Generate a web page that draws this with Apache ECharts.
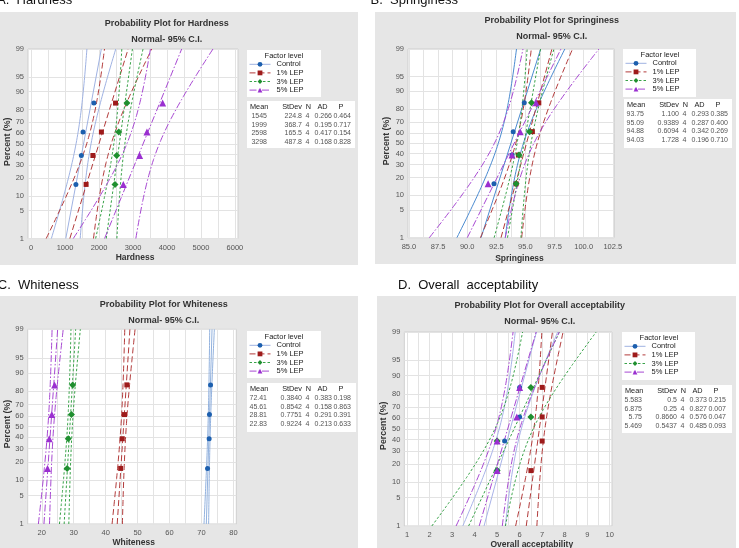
<!DOCTYPE html>
<html><head><meta charset="utf-8">
<script src="https://cdn.jsdelivr.net/npm/echarts@6/dist/echarts.min.js"></script>
<style>html,body{margin:0;padding:0;background:#fff}#c{width:739px;height:548px}</style>
</head><body><div id="c"></div>
<script>
// ================= DATA =================
const groups = ['Control', '1% LEP', '3% LEP', '5% LEP'];
// median-rank plotting positions for n = 4, in percent
const plotPercents = [15.91, 38.64, 61.36, 84.09];
const percentTicks = [1, 5, 10, 20, 30, 40, 50, 60, 70, 80, 90, 95, 99];

// A. Hardness
const hardnessControl = [1320, 1480, 1530, 1850];
const hardness1 = [1620, 1820, 2070, 2486];
const hardness3 = [2470, 2520, 2580, 2822];
const hardness5 = [2715, 3195, 3410, 3872];
const hardnessMean = ['1545', '1999', '2598', '3298'];
const hardnessStDev = ['224.8', '368.7', '165.5', '487.8'];
const hardnessN = [4, 4, 4, 4];
const hardnessAD = ['0.266', '0.195', '0.417', '0.168'];
const hardnessP = ['0.464', '0.717', '0.154', '0.828'];
const hardnessTicks = [0, 1000, 2000, 3000, 4000, 5000, 6000];

// B. Springiness
const springControl = [92.3, 93.85, 93.95, 94.9];
const spring1 = [94.2, 94.4, 95.6, 96.15];
const spring3 = [94.2, 94.45, 95.35, 95.52];
const spring5 = [91.8, 93.85, 94.55, 95.92];
const springMean = ['93.75', '95.09', '94.88', '94.03'];
const springStDev = ['1.100', '0.9389', '0.6094', '1.728'];
const springN = [4, 4, 4, 4];
const springAD = ['0.293', '0.287', '0.342', '0.196'];
const springP = ['0.385', '0.400', '0.269', '0.710'];
const springTicks = [85, 87.5, 90, 92.5, 95, 97.5, 100, 102.5];

// C. Whiteness
const whiteControl = [71.9, 72.4, 72.5, 72.84];
const white1 = [44.7, 45.2, 45.9, 46.64];
const white3 = [27.95, 28.3, 29.3, 29.69];
const white5 = [21.8, 22.35, 23.15, 24.02];
const whiteMean = ['72.41', '45.61', '28.81', '22.83'];
const whiteStDev = ['0.3840', '0.8542', '0.7751', '0.9224'];
const whiteN = [4, 4, 4, 4];
const whiteAD = ['0.383', '0.158', '0.291', '0.213'];
const whiteP = ['0.198', '0.863', '0.391', '0.633'];
const whiteTicks = [20, 30, 40, 50, 60, 70, 80];

// D. Overall acceptability
const overallControl = [5, 5.333, 6, 6];
const overall1 = [6.5, 7, 7, 7];
const overall3 = [5, 5, 6.5, 6.5];
const overall5 = [5, 5, 5.875, 6];
const overallMean = ['5.583', '6.875', '5.75', '5.469'];
const overallStDev = ['0.5', '0.25', '0.8660', '0.5437'];
const overallN = [4, 4, 4, 4];
const overallAD = ['0.373', '0.827', '0.576', '0.485'];
const overallP = ['0.215', '0.007', '0.047', '0.093'];
const overallTicks = [1, 2, 3, 4, 5, 6, 7, 8, 9, 10];

const panelData = [
  { label: 'A.  Hardness', title: 'Probability Plot for Hardness', xName: 'Hardness',
    values: [hardnessControl, hardness1, hardness3, hardness5], mean: hardnessMean, sd: hardnessStDev,
    n: hardnessN, ad: hardnessAD, p: hardnessP, ticks: hardnessTicks, minor: 500, dec: 0 },
  { label: 'B.  Springiness', title: 'Probability Plot for Springiness', xName: 'Springiness',
    values: [springControl, spring1, spring3, spring5], mean: springMean, sd: springStDev,
    n: springN, ad: springAD, p: springP, ticks: springTicks, minor: 1.25, dec: 1 },
  { label: 'C.  Whiteness', title: 'Probability Plot for Whiteness', xName: 'Whiteness',
    values: [whiteControl, white1, white3, white5], mean: whiteMean, sd: whiteStDev,
    n: whiteN, ad: whiteAD, p: whiteP, ticks: whiteTicks, minor: 5, dec: 0 },
  { label: 'D.  Overall  acceptability', title: 'Probability Plot for Overall acceptability', xName: 'Overall acceptability',
    values: [overallControl, overall1, overall3, overall5], mean: overallMean, sd: overallStDev,
    n: overallN, ad: overallAD, p: overallP, ticks: overallTicks, minor: 0.5, dec: 0 }
];

// ================= LAYOUT / STYLE =================
const layouts = [
  { plot: [28, 49, 210, 189.5], xr: [-90, 6090], box: [0, 12, 358, 253], leg: [247, 50, 74, 47], stats: [247, 101, 108, 47],
    title: [166.7, 24, 40], xName: [135, 257.3], yName: [7.3, 141.7], label: [-3, 0.5] },
  { plot: [408, 49, 206.3, 188.7], xr: [84.92, 102.63], box: [375, 12, 361, 252], leg: [623, 49, 73, 48], stats: [624, 99, 108, 49],
    title: [551.7, 21, 37], xName: [519.5, 258.3], yName: [386.7, 141], label: [370.5, 0.5] },
  { plot: [27.7, 329.3, 208.6, 194.7], xr: [15.6, 80.9], box: [0, 296, 358, 252], leg: [247, 331, 74, 47], stats: [247, 383, 109, 49],
    title: [163.8, 304.7, 320.7], xName: [133.7, 542.7], yName: [7.3, 424], label: [-2.2, 285] },
  { plot: [404.3, 332, 207.7, 194], xr: [0.88, 10.1], box: [377, 296, 359, 252], leg: [622, 332, 73, 48], stats: [622, 385, 110, 48],
    title: [539.7, 305.7, 321.3], xName: [531.8, 544.7], yName: [383.3, 425.7], label: [398, 285.7] }
];
const FONT = '"Liberation Sans", Arial, sans-serif';
const styles = [
  { symbol: 'circle', size: 5, marker: '#1c5fae', line: ['#9fb2e2', '#4b8bd0', '#93b2de', '#a9b3e8'], dash: 'solid' },
  { symbol: 'rect', size: 5, marker: '#9e1b1b', line: ['#b23b3b', '#b23b3b', '#b23b3b', '#b23b3b'], dash: [6, 3] },
  { symbol: 'diamond', size: 7, marker: '#1f8f2f', line: ['#38a248', '#38a248', '#38a248', '#38a248'], dash: [2.5, 2] },
  { symbol: 'triangle', size: 7, marker: '#9a2fd0', line: ['#a748d2', '#a748d2', '#a748d2', '#a748d2'], dash: [7, 2, 1.5, 2] }
];

// ============ inverse normal CDF (probability-scale transform) ============
function normInv(p) {
  const a = [-3.969683028665376e+01, 2.209460984245205e+02, -2.759285104469687e+02, 1.383577518672690e+02, -3.066479806614716e+01, 2.506628277459239e+00];
  const b = [-5.447609879822406e+01, 1.615858368580409e+02, -1.556989798598866e+02, 6.680131188771972e+01, -1.328068155288572e+01];
  const c = [-7.784894002430293e-03, -3.223964580411365e-01, -2.400758277161838e+00, -2.549671338395728e+00, 4.374664141464968e+00, 2.938163982698783e+00];
  const d = [7.784695709041462e-03, 3.224671290700398e-01, 2.445134137142996e+00, 3.754408661907416e+00];
  const pl = 0.02425;
  let q, r;
  if (p < pl) { q = Math.sqrt(-2 * Math.log(p)); return (((((c[0]*q+c[1])*q+c[2])*q+c[3])*q+c[4])*q+c[5]) / ((((d[0]*q+d[1])*q+d[2])*q+d[3])*q+1); }
  if (p > 1 - pl) { q = Math.sqrt(-2 * Math.log(1 - p)); return -(((((c[0]*q+c[1])*q+c[2])*q+c[3])*q+c[4])*q+c[5]) / ((((d[0]*q+d[1])*q+d[2])*q+d[3])*q+1); }
  q = p - 0.5; r = q * q;
  return (((((a[0]*r+a[1])*r+a[2])*r+a[3])*r+a[4])*r+a[5])*q / (((((b[0]*r+b[1])*r+b[2])*r+b[3])*r+b[4])*r+1);
}
const zTicks = percentTicks.map(p => normInv(p / 100));
const zMin = zTicks[0], zMax = zTicks[zTicks.length - 1];
function pctLabel(v) {
  for (let i = 0; i < zTicks.length; i++) if (Math.abs(zTicks[i] - v) < 1e-6) return String(percentTicks[i]);
  return '';
}
function gridValues(lo, hi, step) {
  const out = []; const s = Math.ceil(lo / step - 1e-9);
  for (let k = s; k * step <= hi + 1e-9; k++) out.push(+(k * step).toFixed(6));
  return out;
}
// z samples for the fitted line and 95% CI of the percentiles
const zSteps = [];
for (let i = 0; i <= 60; i++) zSteps.push(zMin + (zMax - zMin) * i / 60);

// ================= BUILD =================
const grids = [], xAxes = [], yAxes = [], series = [], legends = [], elements = [];
const scatterSeries = [];

panelData.forEach((P, pi) => {
  const L = layouts[pi];
  grids.push({ left: L.plot[0], top: L.plot[1], width: L.plot[2], height: L.plot[3], show: true,
    backgroundColor: '#ffffff', borderColor: '#cfcfcf', borderWidth: 1, containLabel: false, outerBoundsMode: 'none' });
  xAxes.push({ type: 'value', gridIndex: pi, min: L.xr[0], max: L.xr[1],
    axisLine: { show: false }, axisTick: { show: false, customValues: gridValues(L.xr[0], L.xr[1], P.minor) },
    axisLabel: { customValues: P.ticks, margin: 5, fontSize: 7.5, color: '#555', fontFamily: FONT,
      formatter: v => Number(v).toFixed(P.dec) },
    splitLine: { show: true, lineStyle: { color: '#e3e3e3', width: 1 } } });
  yAxes.push({ type: 'value', gridIndex: pi, min: zMin, max: zMax,
    axisLine: { show: false }, axisTick: { show: false, customValues: zTicks },
    axisLabel: { customValues: zTicks, formatter: pctLabel, margin: 4, fontSize: 7.5, color: '#555', fontFamily: FONT },
    splitLine: { show: true, lineStyle: { color: '#e3e3e3', width: 1 } } });

  groups.forEach((g, gi) => {
    const S = styles[gi];
    const m = parseFloat(P.mean[gi]), s = parseFloat(P.sd[gi]), n = P.n[gi];
    const fit = [[m + s * zMin, zMin], [m + s * zMax, zMax]];
    const lo = zSteps.map(z => [m + s * z - 1.959964 * s * Math.sqrt(1 / n + z * z / (2 * n)), z]);
    const hi = zSteps.map(z => [m + s * z + 1.959964 * s * Math.sqrt(1 / n + z * z / (2 * n)), z]);
    [fit, lo, hi].forEach(dat => series.push({
      type: 'line', name: g, xAxisIndex: pi, yAxisIndex: pi, data: dat,
      symbol: S.symbol, showSymbol: false, symbolSize: S.size, silent: true, animation: false, z: 2,
      itemStyle: { color: S.marker, opacity: 1 }, lineStyle: { color: S.line[pi], width: 1, type: S.dash }
    }));
    scatterSeries.push({
      type: 'scatter', name: g, xAxisIndex: pi, yAxisIndex: pi,
      data: P.values[gi].map((v, i) => [v, normInv(plotPercents[i] / 100)]),
      symbol: S.symbol, symbolSize: S.size, itemStyle: { color: S.marker, opacity: 1 }, silent: true, animation: false, z: 3
    });
  });

  legends.push({ orient: 'vertical', left: L.leg[0] + 2, top: L.leg[1] + 10, itemWidth: 21, itemHeight: 6, itemGap: 0,
    padding: 0, selectedMode: false, data: groups,
    lineStyle: { width: 1 }, itemStyle: { opacity: 1 },
    textStyle: { fontSize: 7.5, lineHeight: 8.6, color: '#222', fontFamily: FONT, padding: [0, 0, 0, 1] } });

  // panel background & boxes
  elements.push({ type: 'rect', silent: true, z: -10, shape: { x: L.box[0], y: L.box[1], width: L.box[2], height: L.box[3] }, style: { fill: '#e6e6e6' } });
  elements.push({ type: 'rect', silent: true, z: 1, shape: { x: L.leg[0], y: L.leg[1], width: L.leg[2], height: L.leg[3] }, style: { fill: '#ffffff' } });
  elements.push({ type: 'rect', silent: true, z: 1, shape: { x: L.stats[0], y: L.stats[1], width: L.stats[2], height: L.stats[3] }, style: { fill: '#ffffff' } });
  const txt = (x, y, text, o) => elements.push({ type: 'text', silent: true, z: 10, x, y,
    style: Object.assign({ text, fontFamily: FONT, fontSize: 8, fill: '#333', align: 'center', verticalAlign: 'middle' }, o || {}) });
  txt(L.label[0], L.label[1], P.label, { fontSize: 13, fill: '#111', align: 'left' });
  txt(L.title[0], L.title[1], P.title, { fontSize: 9, fontWeight: 'bold', fill: '#333' });
  txt(L.title[0], L.title[2], 'Normal- 95% C.I.', { fontSize: 9, fontWeight: 'bold', fill: '#333' });
  txt(L.xName[0], L.xName[1], P.xName, { fontSize: 8.5, fontWeight: 'bold', fill: '#333' });
  elements.push({ type: 'text', silent: true, z: 10, x: L.yName[0], y: L.yName[1], rotation: Math.PI / 2,
    style: { text: 'Percent (%)', fontFamily: FONT, fontSize: 8.8, fontWeight: 'bold', fill: '#333', align: 'center', verticalAlign: 'middle' } });
  txt(L.leg[0] + 37, L.leg[1] + 5.5, 'Factor level', { fontSize: 7.5, fill: '#222' });
  // statistics table
  const sx = L.stats[0], sy = L.stats[1];
  txt(sx + 3, sy + 5.5, 'Mean', { align: 'left', fontSize: 7.3, fill: '#222' });
  txt(sx + 55, sy + 5.5, 'StDev', { align: 'right', fontSize: 7.3, fill: '#222' });
  txt(sx + 61.5, sy + 5.5, 'N', { fontSize: 7.3, fill: '#222' });
  txt(sx + 75.5, sy + 5.5, 'AD', { fontSize: 7.3, fill: '#222' });
  txt(sx + 94, sy + 5.5, 'P', { fontSize: 7.3, fill: '#222' });
  groups.forEach((g, gi) => {
    const y = sy + 14.7 + gi * 8.9;
    const o = { fontSize: 7, fill: '#555' };
    txt(sx + 20, y, P.mean[gi], Object.assign({ align: 'right' }, o));
    txt(sx + 55, y, P.sd[gi], Object.assign({ align: 'right' }, o));
    txt(sx + 60.5, y, String(P.n[gi]), o);
    txt(sx + 85, y, P.ad[gi], Object.assign({ align: 'right' }, o));
    txt(sx + 104, y, P.p[gi], Object.assign({ align: 'right' }, o));
  });
});

const chart = echarts.init(document.getElementById('c'), null, { renderer: 'canvas' });
chart.setOption({
  animation: false,
  backgroundColor: '#ffffff',
  grid: grids, xAxis: xAxes, yAxis: yAxes,
  legend: legends,
  series: series.concat(scatterSeries),
  graphic: { elements }
});
</script></body></html>
